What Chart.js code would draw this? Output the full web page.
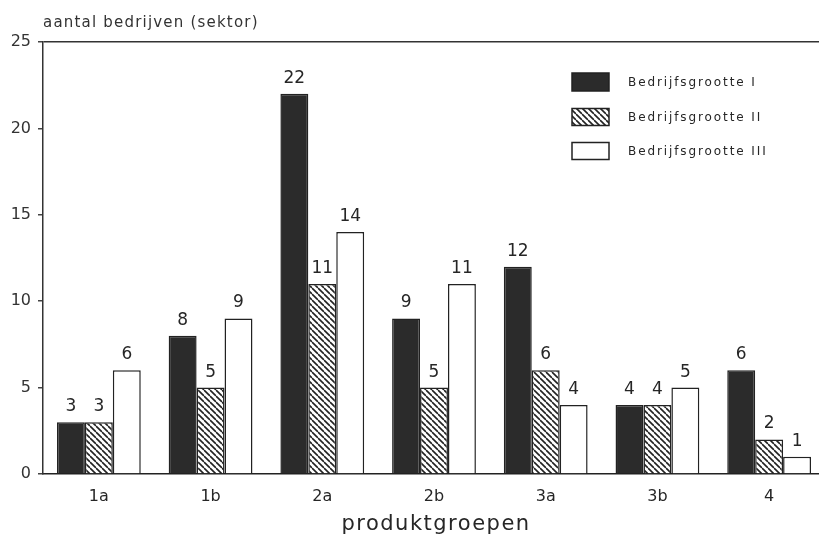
<!DOCTYPE html>
<html>
<head>
<meta charset="utf-8">
<script src="https://cdn.jsdelivr.net/npm/chart.js@4/dist/chart.umd.min.js"></script>
<style>
html,body{margin:0;padding:0;background:#fff;overflow:hidden;}
#wrap{width:826px;height:541px;position:relative;}
</style>
</head>
<body>
<div id="wrap"><canvas id="c"></canvas></div>
<script>
const categories = ['1a','1b','2a','2b','3a','3b','4'];
const seriesNames = ['Bedrijfsgrootte I','Bedrijfsgrootte II','Bedrijfsgrootte III'];
const groteI = [3, 8, 22, 9, 12, 4, 6];
const groteII = [3, 5, 11, 5, 6, 4, 2];
const groteIII = [6, 9, 14, 11, 4, 5, 1];
const yTicks = [0, 5, 10, 15, 20, 25];
const yTitle = 'aantal bedrijven (sektor)';
const xTitle = 'produktgroepen';

const INK = '#262626';
const FONT = '"DejaVu Sans", sans-serif';

function hatch() {
  const s = 6;
  const c = document.createElement('canvas');
  c.width = s; c.height = s;
  const g = c.getContext('2d');
  g.fillStyle = '#fff'; g.fillRect(0,0,s,s);
  g.strokeStyle = '#222'; g.lineWidth = 1.6;
  for (let k = -1; k <= 1; k++) {
    g.beginPath(); g.moveTo(0, k*s); g.lineTo(s, s + k*s); g.stroke();
  }
  return g.createPattern(c, 'repeat');
}
const hatchPat = hatch();
const fills = ['#2b2b2b', hatchPat, '#ffffff'];

const labelsPlugin = {
  id: 'extras',
  afterDatasetsDraw(chart) {
    const ctx = chart.ctx;
    ctx.save();
    ctx.fillStyle = INK;
    ctx.font = '17px ' + FONT;
    ctx.textAlign = 'center';
    ctx.textBaseline = 'bottom';
    chart.data.datasets.forEach((ds, i) => {
      const meta = chart.getDatasetMeta(i);
      meta.data.forEach((bar, j) => {
        ctx.fillText(String(ds.data[j]), bar.x, bar.y - 7);
      });
    });
    // y title
    ctx.textAlign = 'left';
    ctx.textBaseline = 'alphabetic';
    ctx.font = '15px ' + FONT;
    ctx.letterSpacing = '1.2px';
    ctx.fillStyle = '#333';
    ctx.fillText(yTitle, 43, 27);
    // x title
    ctx.textAlign = 'center';
    ctx.font = '21px ' + FONT;
    ctx.letterSpacing = '1.5px';
    ctx.fillStyle = INK;
    ctx.fillText(xTitle, 436, 530);
    // legend
    ctx.font = '12px ' + FONT;
    ctx.letterSpacing = '1.9px';
    ctx.textAlign = 'left';
    ctx.textBaseline = 'middle';
    const rows = [82, 117, 151];
    chart.data.datasets.forEach((ds, i) => {
      const y = rows[i];
      const h = i === 0 ? 18 : 17;
      ctx.fillStyle = ds.backgroundColor;
      ctx.fillRect(572, y - h/2, 37, h);
      ctx.lineWidth = 1.5;
      ctx.strokeStyle = '#222';
      ctx.strokeRect(572, y - h/2, 37, h);
      ctx.fillStyle = INK;
      ctx.fillText(ds.label, 628, y + 1);
    });
    ctx.restore();
  }
};

new Chart(document.getElementById('c'), {
  type: 'bar',
  data: {
    labels: categories,
    datasets: [
      { label: seriesNames[0], data: groteI, backgroundColor: fills[0], borderColor: '#222', borderWidth: 1.5 },
      { label: seriesNames[1], data: groteII, backgroundColor: fills[1], borderColor: '#222', borderWidth: 1.5 },
      { label: seriesNames[2], data: groteIII, backgroundColor: fills[2], borderColor: '#222', borderWidth: 1.5 }
    ]
  },
  options: {
    responsive: true,
    maintainAspectRatio: false,
    animation: false,
    layout: { padding: { top: 42, right: 1, left: 0, bottom: 0 } },
    datasets: { bar: { categoryPercentage: 0.75, barPercentage: 1.0 } },
    plugins: { legend: { display: false }, tooltip: { enabled: false } },
    scales: {
      x: {
        grid: { display: true, drawOnChartArea: false, drawTicks: false },
        border: { display: true, color: '#222', width: 1.5 },
        ticks: { color: INK, font: { family: FONT, size: 16 }, padding: 13 },
        afterFit(s) { s.height = 67; }
      },
      y: {
        min: 0, max: 25,
        afterBuildTicks(s) { s.ticks = yTicks.map(v => ({ value: v })); },
        grid: {
          color: c => (c.tick && c.tick.value === 25) ? '#333' : 'rgba(0,0,0,0)',
          lineWidth: 1.5,
          tickColor: '#444',
          tickLength: 5,
          drawTicks: true
        },
        border: { display: true, color: '#333', width: 1.5 },
        ticks: { color: '#333', font: { family: FONT, size: 16 }, padding: 7 },
        afterFit(s) { s.width = 43; }
      }
    }
  },
  plugins: [labelsPlugin]
});
</script>
</body>
</html>
